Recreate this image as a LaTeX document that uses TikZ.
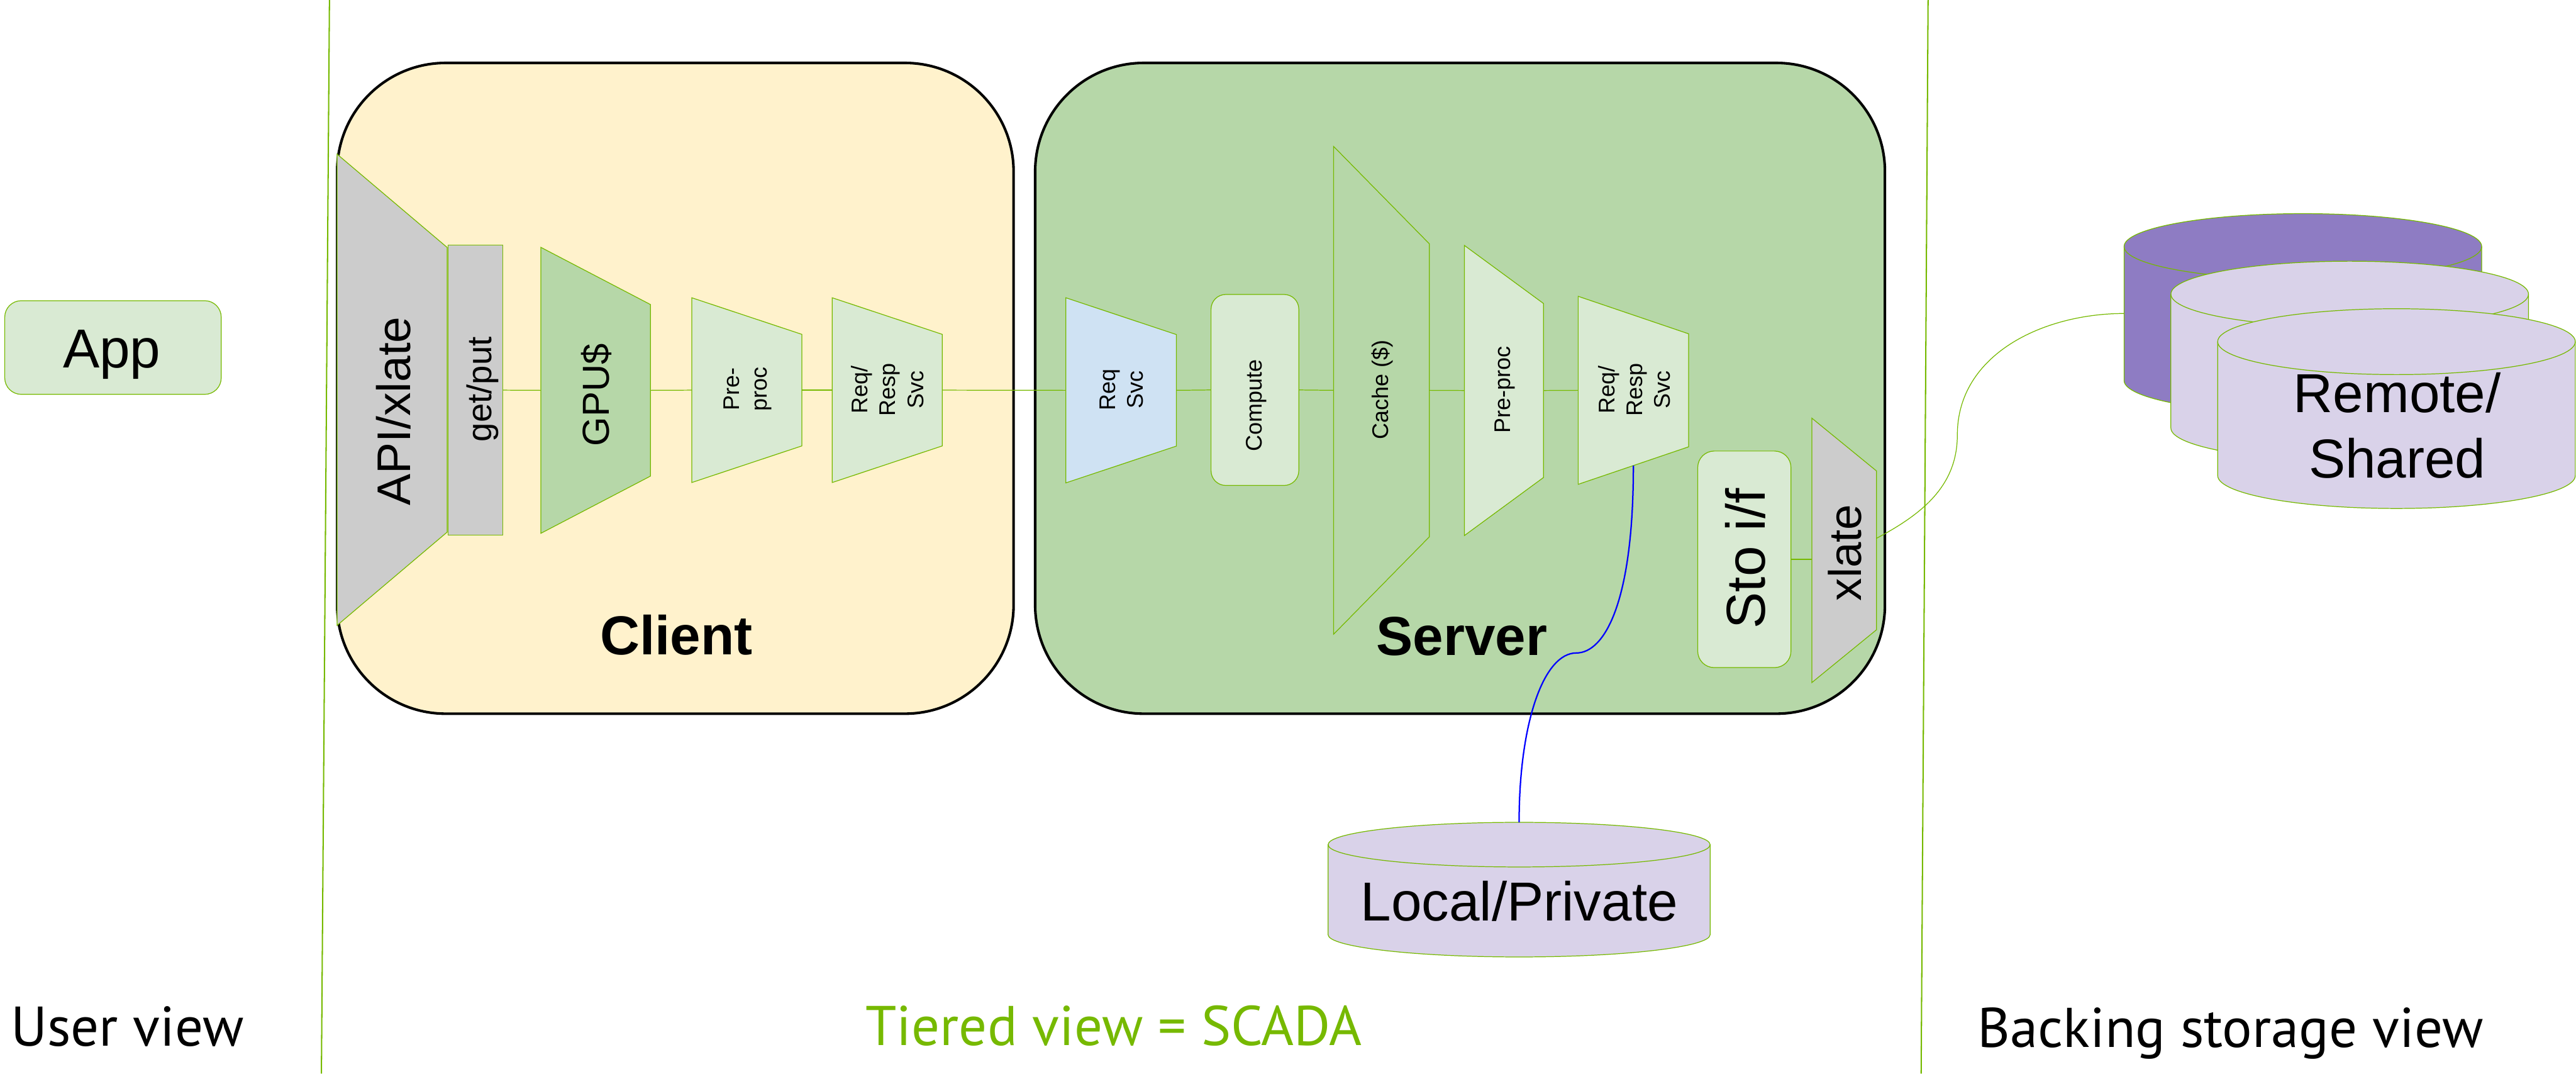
\documentclass[tikz,border=0pt]{standalone}
\usepackage{fontspec}
\setmainfont{Liberation Sans}
\newfontfamily\viewfont{PT Sans}
\usetikzlibrary{calc}

\definecolor{nvgreen}{HTML}{76B900}
\definecolor{cyellow}{HTML}{FFF2CC}
\definecolor{cgreen}{HTML}{B6D7A8}
\definecolor{lgreen}{HTML}{D9EAD3}
\definecolor{cblue}{HTML}{CFE2F3}
\definecolor{cgray}{HTML}{CCCCCC}
\definecolor{cpurple}{HTML}{8E7CC3}
\definecolor{clav}{HTML}{D9D2E9}

\newcommand{\fBig}{\fontsize{42.7}{51.2}\selectfont}
\newcommand{\fApi}{\fontsize{36.7}{44}\selectfont}
\newcommand{\fXl}{\fontsize{35.6}{42.7}\selectfont}
\newcommand{\fGpu}{\fontsize{29.3}{35}\selectfont}
\newcommand{\fGet}{\fontsize{26.7}{32}\selectfont}
\newcommand{\fSmall}{\fontsize{17.6}{21.6}\selectfont}
\newcommand{\fView}{\viewfont\fontsize{43.5}{52}\selectfont}

% trapezoid with vertical parallel sides, wide side on the left
% #1 name, #2 centre x, #3 centre y (downwards), #4 width,
% #5 left half height, #6 right half height, #7 fill
\newcommand{\Trap}[7]{%
  \filldraw[fill=#7, draw=nvgreen, line width=0.6pt]
    ({#2-#4/2},{-#3+#5}) -- ({#2+#4/2},{-#3+#6}) --
    ({#2+#4/2},{-#3-#6}) -- ({#2-#4/2},{-#3-#5}) -- cycle;
  \node[minimum width=#4cm, minimum height={2*#5cm}] (#1) at ({#2},{-#3}) {};
}

% upright cylinder
% #1 name, #2 centre x, #3 top ellipse centre y, #4 bottom ellipse centre y,
% #5 x radius, #6 y radius, #7 fill
\newcommand{\Cyl}[7]{%
  \filldraw[fill=#7, draw=nvgreen, line width=0.6pt]
    ({#2-#5},{-#3}) -- ({#2-#5},{-#4})
    arc[start angle=180, end angle=360, x radius=#5, y radius=#6]
    -- ({#2+#5},{-#3})
    arc[start angle=0, end angle=180, x radius=#5, y radius=#6] -- cycle;
  \draw[nvgreen, line width=0.6pt]
    ({#2-#5},{-#3}) arc[start angle=180, end angle=360, x radius=#5, y radius=#6];
  \node[minimum width={2*#5cm}, minimum height={(#4-#3+2*#6)*1cm}]
    (#1) at ({#2},{-(#3+#4)/2}) {};
}

\begin{document}
\begin{tikzpicture}[x=1cm, y=1cm,
  every node/.style={inner sep=0pt, outer sep=0pt},
  container/.style={draw=black, line width=2pt, rounded corners=2.97cm},
  plainbox/.style={draw=nvgreen, line width=0.6pt},
  conn/.style={draw=nvgreen, line width=0.6pt},
  divider/.style={draw=nvgreen, line width=1pt},
  storelink/.style={draw=blue, line width=1.1pt},
  vlabel/.style={rotate=90, align=center}]

\useasboundingbox (0,0) rectangle (70.45,-29.35);
\fill[white] (0,0) rectangle (70.45,-29.35);

% view dividers
\draw[divider] (9.01,0) -- (8.79,-29.35);
\draw[divider] (52.73,0) -- (52.54,-29.35);

% user view
\node[plainbox, fill=lgreen, rounded corners=0.45cm,
      minimum width=5.92cm, minimum height=2.56cm] (app) at (3.09,-9.50) {};
\node[anchor=base, font=\fBig] (app-l) at (3.06,-10.06) {App};

% tier containers
\node[container, fill=cyellow, minimum width=18.50cm, minimum height=17.79cm]
  (client) at (18.47,-10.615) {};
\node[container, fill=cgreen, minimum width=23.24cm, minimum height=17.79cm]
  (server) at (39.93,-10.615) {};

% client stack
\Trap{api}{10.725}{10.655}{3.01}{6.44}{3.89}{cgray}
\node[plainbox, fill=cgray, minimum width=1.50cm, minimum height=7.93cm]
  (getput) at (13.00,-10.665) {};
\Trap{gpu}{16.29}{10.67}{3.00}{3.91}{2.345}{cgreen}
\Trap{prec}{20.425}{10.665}{3.01}{2.525}{1.525}{lgreen}
\Trap{rrc}{24.265}{10.665}{3.01}{2.525}{1.525}{lgreen}

\node[vlabel, font=\fApi] (api-l) at (10.76,-11.24) {API/xlate};
\node[vlabel, font=\fGet] (getput-l) at (13.20,-10.64) {get/put};
\node[vlabel, font=\fGpu] (gpu-l) at (16.31,-10.80) {GPU\$};
\node[vlabel, font=\fSmall] (prec-l) at (20.45,-10.64) {Pre-\\proc};
\node[vlabel, font=\fSmall] (rrc-l) at (24.27,-10.65) {Req/\\Resp\\Svc};
\node[anchor=base, font=\fBig\bfseries] (client-l) at (18.50,-17.90) {Client};

% server stack
\Trap{rqs}{30.66}{10.67}{3.02}{2.53}{1.525}{cblue}
\node[plainbox, fill=lgreen, rounded corners=0.4cm,
      minimum width=2.40cm, minimum height=5.22cm] (comp) at (34.32,-10.66) {};
\Trap{cache}{37.78}{10.67}{2.62}{6.67}{4.005}{cgreen}
\Trap{pres}{41.13}{10.675}{2.16}{3.965}{2.38}{lgreen}
\Trap{rrs}{44.67}{10.67}{3.02}{2.57}{1.545}{lgreen}
\node[plainbox, fill=lgreen, rounded corners=0.45cm,
      minimum width=2.55cm, minimum height=5.92cm] (sto) at (47.705,-15.29) {};
\Trap{xlate}{50.435}{15.045}{1.77}{3.615}{2.17}{cgray}

\node[vlabel, font=\fSmall] (rqs-l) at (30.67,-10.66) {Req\\Svc};
\node[vlabel, font=\fSmall] (comp-l) at (34.36,-11.08) {Compute};
\node[vlabel, font=\fSmall] (cache-l) at (37.81,-10.65) {Cache (\$)};
\node[vlabel, font=\fSmall] (pres-l) at (41.16,-10.66) {Pre-proc};
\node[vlabel, font=\fSmall] (rrs-l) at (44.69,-10.66) {Req/\\Resp\\Svc};
\node[vlabel, font=\fBig] (sto-l) at (47.73,-15.27) {Sto i/f};
\node[vlabel, font=\fXl] (xlate-l) at (50.45,-15.11) {xlate};
\node[anchor=base, font=\fBig\bfseries] (server-l) at (39.98,-17.91) {Server};

% storage
\Cyl{local}{41.545}{23.09}{25.55}{5.225}{0.61}{clav}
\node[anchor=base, font=\fBig] (local-l) at (41.55,-25.17) {Local/Private};

\Cyl{remA}{62.98}{6.74}{10.40}{4.89}{0.90}{cpurple}
\Cyl{remB}{64.26}{8.04}{11.70}{4.89}{0.90}{clav}
\Cyl{remC}{65.54}{9.34}{13.00}{4.89}{0.90}{clav}
\node[align=center, font=\fBig] (remC-l) at (65.56,-11.63) {Remote/\\Shared};

% request path
\draw[conn] (getput.east) -- (gpu.west);
\draw[conn] (gpu.east) -- (prec.west);
\draw[conn] (prec.east) -- (rrc.west);
\draw[conn] (rrc.east) -- (rqs.west);
\draw[conn] (rqs.east) -- (comp.west);
\draw[conn] (comp.east) -- (cache.west);
\draw[conn] (cache.east) -- (pres.west);
\draw[conn] (pres.east) -- (rrs.west);
\draw[conn] (sto.east) -- (sto.east -| xlate.west);

% storage links
\coordinate (knee) at (43.11,-17.85);
\coordinate (bend) at (53.53,-11.89);
\draw[storelink] ($(rrs.south)+(0,0.51)$) .. controls +(0,-3.8) and +(0.75,0) .. (knee)
  .. controls +(-0.9,0) and +(0,2.7) .. (local.north);
\draw[conn] ($(xlate.east)+(0,0.33)$) to[out=28, in=-90] (bend)
  to[out=90, in=180] (remA.west);

% view captions
\node[anchor=base west, font=\fView] (user-cap) at (0.30,-28.60) {User view};
\node[anchor=base, font=\fView, text=nvgreen] (tier-cap) at (30.46,-28.58) {Tiered view = SCADA};
\node[anchor=base, font=\fView] (back-cap) at (61.00,-28.62) {Backing storage view};
\end{tikzpicture}
\end{document}
